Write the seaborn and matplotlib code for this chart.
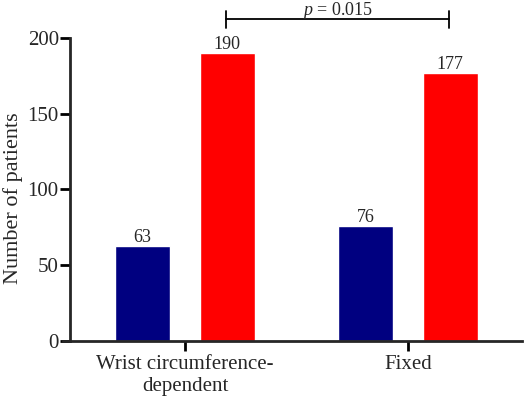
import matplotlib
matplotlib.use("Agg")
import matplotlib.pyplot as plt
import seaborn as sns
import pandas as pd

# data
groups = ["Wrist circumference-\ndependent", "Fixed"]
series = ["A", "B"]
values_a = [63, 76]
values_b = [190, 177]
colors = ["#000080", "#FF0000"]

df = pd.DataFrame({
    "group": groups * 2,
    "series": [series[0]] * 2 + [series[1]] * 2,
    "value": values_a + values_b,
})

sns.set_style("ticks")
plt.rcParams["font.family"] = ["Liberation Serif", "DejaVu Serif"]
plt.rcParams["mathtext.fontset"] = "custom"
plt.rcParams["mathtext.rm"] = "Liberation Serif"
plt.rcParams["mathtext.it"] = "Liberation Serif:italic"

fig = plt.figure(figsize=(5.32, 3.99), dpi=100)
ax = fig.add_axes([0.1184, 0.1454, 0.8626, 0.7594])

sns.barplot(data=df, x="group", y="value", hue="series", palette=colors,
            width=0.76, gap=0.35, ax=ax, legend=False, saturation=1)

for cont in ax.containers:
    ax.bar_label(cont, fontsize=13, padding=0)

ax.set_ylim(0, 200)
ax.set_xlim(-0.547, 1.511)
ax.set_yticks([0, 50, 100, 150, 200])
ax.set_xlabel("")
ax.set_ylabel("Number of patients", fontsize=16, labelpad=3)
ax.yaxis.label.set_y(0.47)
ax.tick_params(axis="both", labelsize=15, width=2, length=7, color="black")
ax.tick_params(axis="y", pad=1)
ax.tick_params(axis="x", pad=3)
for s in ["top", "right"]:
    ax.spines[s].set_visible(False)
for s in ["left", "bottom"]:
    ax.spines[s].set_linewidth(2)
ax.spines["left"].set_position(("data", -0.516))

# significance bracket
x1, x2 = 0.183, 1.184
ax.plot([x1, x2], [212.5, 212.5], color="black", lw=1.3, clip_on=False)
ax.plot([x1, x1], [206.6, 217.5], color="black", lw=1.3, clip_on=False)
ax.plot([x2, x2], [206.6, 217.5], color="black", lw=1.3, clip_on=False)
ax.text((x1 + x2) / 2, 215.5, r"$\it{p}$ = 0.015", ha="center", va="baseline",
        fontsize=13)

fig.savefig("out.png", dpi=100)
